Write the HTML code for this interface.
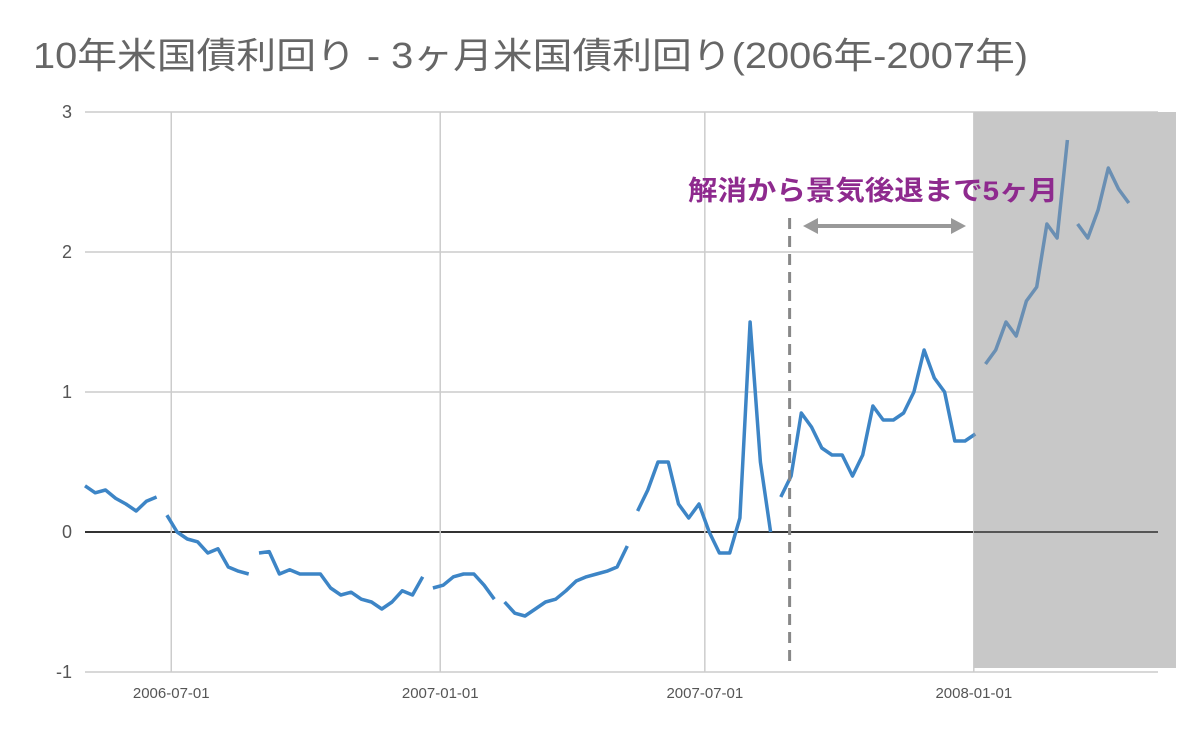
<!DOCTYPE html>
<html><head><meta charset="utf-8"><style>
body{margin:0;background:#fff;width:1188px;height:732px;overflow:hidden}
text{font-family:"Liberation Sans","Noto Sans CJK JP",sans-serif}
</style></head><body>
<svg id="chart" width="1188" height="732" xmlns="http://www.w3.org/2000/svg">
<text x="33" y="68" font-size="36" fill="#666" textLength="995" lengthAdjust="spacingAndGlyphs">10年米国債利回り - 3ヶ月米国債利回り(2006年-2007年)</text>
<g id="grid"></g>
<g id="plot"></g>
<g id="annot"></g>
</svg>
<script>
const startDate = "2006-05-03";
const spreadValues = [0.33,0.28,0.30,0.24,0.20,0.15,0.22,0.25,null,0.12,0.00,-0.05,-0.07,-0.15,-0.12,-0.25,-0.28,-0.30,null,-0.15,-0.14,-0.30,-0.27,-0.30,-0.30,-0.30,-0.40,-0.45,-0.43,-0.48,-0.50,-0.55,-0.50,-0.42,-0.45,-0.32,null,-0.40,-0.38,-0.32,-0.30,-0.30,-0.38,-0.48,null,-0.50,-0.58,-0.60,-0.55,-0.50,-0.48,-0.42,-0.35,-0.32,-0.30,-0.28,-0.25,-0.10,null,0.15,0.30,0.50,0.50,0.20,0.10,0.20,0.00,-0.15,-0.15,0.10,1.50,0.50,0.00,null,0.25,0.40,0.85,0.75,0.60,0.55,0.55,0.40,0.55,0.90,0.80,0.80,0.85,1.00,1.30,1.10,1.00,0.65,0.65,0.70,null,1.20,1.30,1.50,1.40,1.65,1.75,2.20,2.10,2.80,null,2.20,2.10,2.30,2.60,2.45,2.35];
const yTicks = [3,2,1,0,-1];
const xTickLabels = ["2006-07-01","2007-01-01","2007-07-01","2008-01-01"];
const recessionStart = "2008-01-01";
const inversionEnd = "2007-08-28";
const annotationText = "解消から景気後退まで5ヶ月";

const NS="http://www.w3.org/2000/svg";
const L=85,R=1158,T=112,B=672;
const d0=new Date(startDate), d1=new Date("2008-05-06");
const x=d=>L+(new Date(d)-d0)/(d1-d0)*(R-L);
const y=v=>T+(3-v)/4*(B-T);
function mk(tag,attrs,parent){const e=document.createElementNS(NS,tag);for(const k in attrs)e.setAttribute(k,attrs[k]);parent.appendChild(e);return e;}
const grid=document.getElementById('grid'),plot=document.getElementById('plot'),annot=document.getElementById('annot');
yTicks.forEach(t=>{
  const ln=mk('line',{x1:L,x2:R,y1:y(t),y2:y(t),stroke:t===0?'#333':'#ccc','stroke-width':t===0?2:1.5},grid);
  
  
  const tx=mk('text',{x:72,y:y(t)+6,'text-anchor':'end','font-size':18,fill:'#555'},grid);
  tx.textContent=t;
  
  
});
xTickLabels.forEach(d=>{
  const ln=mk('line',{x1:x(d),x2:x(d),y1:T,y2:B,stroke:'#ccc','stroke-width':1.5},grid);
  
  
  const tx=mk('text',{x:x(d),y:698,'text-anchor':'middle','font-size':15,fill:'#555'},grid);
  tx.textContent=d;
  
  
});
// series path: null marks a break between consecutive weekly observations
let dStr='',pen=false,wk=0;
spreadValues.forEach(v=>{
  if(v===null){pen=false;return;}
  const dt=new Date(d0.getTime()+wk*7*86400000);wk++;
  dStr+=(pen?'L':'M')+x(dt).toFixed(1)+' '+y(v).toFixed(1)+' ';pen=true;
});
const defs=mk('defs',{},plot);
const cp=mk('clipPath',{id:'rc'},defs);
mk('rect',{x:x(recessionStart),y:0,width:300,height:732},cp);
const line=mk('path',{d:dStr,fill:'none',stroke:'#3d85c6','stroke-width':3.5,'stroke-linejoin':'round'},plot);


const shade=mk('rect',{x:x(recessionStart),y:T,width:1176-x(recessionStart),height:B-4-T,fill:'#c8c8c8'},plot);


const zl=mk('line',{x1:x(recessionStart),x2:R,y1:y(0),y2:y(0),stroke:'#555','stroke-width':2},plot);


const line2=mk('path',{d:dStr,fill:'none',stroke:'#6a8fb3','stroke-width':3.5,'stroke-linejoin':'round','clip-path':'url(#rc)'},plot);


// annotations
const vx=x(inversionEnd);
const dl=mk('line',{x1:vx,x2:vx,y1:218,y2:666,stroke:'#888','stroke-width':3,'stroke-dasharray':'11 7'},annot);


const ar=mk('g',{fill:'#999',stroke:'#999'},annot);


mk('line',{x1:815,x2:955,y1:226,y2:226,'stroke-width':4},ar);
mk('polygon',{points:'803,226 818,218 818,234',stroke:'none'},ar);
mk('polygon',{points:'966,226 951,218 951,234',stroke:'none'},ar);
const at=mk('text',{x:688,y:200,'font-size':27,'font-weight':'bold',fill:'#8e2a8e',textLength:370,lengthAdjust:'spacingAndGlyphs'},annot);
at.textContent=annotationText;


</script>
</body></html>
